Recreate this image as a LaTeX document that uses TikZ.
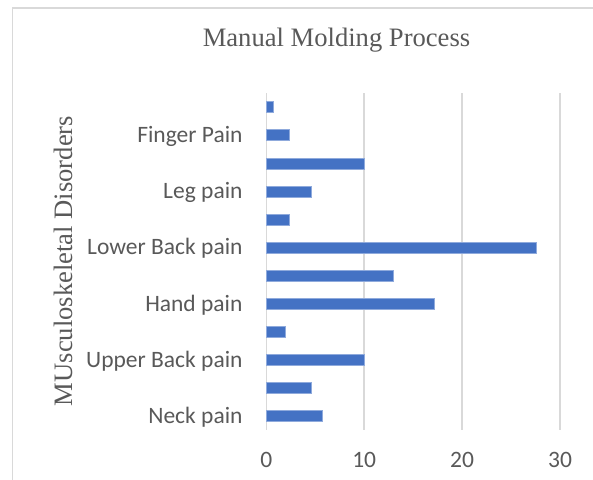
\documentclass[tikz,border=0pt]{standalone}
\usepackage{fontspec}
\setmainfont{Liberation Serif}
\newfontfamily\calfont{Carlito}
\definecolor{barblue}{HTML}{4472C4}
\definecolor{gridgray}{HTML}{D9D9D9}
\definecolor{txtgray}{HTML}{595959}
\begin{document}
\begin{tikzpicture}[x=1pt,y=-1pt,
  bar/.style={fill=barblue,draw=barblue!60!white,line width=0.4pt},
  grid/.style={draw=gridgray,line width=1.5pt},
  cat/.style={anchor=base east,text=txtgray,font=\calfont\fontsize{23.5}{26}\selectfont,inner sep=0pt},
  tick/.style={anchor=base,text=txtgray,font=\calfont\fontsize{23.5}{26}\selectfont,inner sep=0pt},
  ttl/.style={anchor=base,text=txtgray,font=\fontsize{26.6}{30}\selectfont,inner sep=0pt}]
\useasboundingbox (0,0) rectangle (593,479);
\begin{scope}
\clip (0,0) rectangle (593,479);
\draw[draw=gridgray,line width=1.3pt] (12.5,8) rectangle (620,500);
\end{scope}
\def\xz{266.3}
\def\sc{9.79}
% gridlines
\foreach \v in {0,10,20,30}{
  \draw[grid] ({\xz+\v*\sc},93) -- ({\xz+\v*\sc},430);
  \node[tick] (t\v) at ({\xz+\v*\sc},467.5) {\v};
}
% bars
\foreach \i/\v in {1/0.75,2/2.3,3/10,4/4.6,5/2.3,6/27.6,7/13.0,8/17.2,9/1.9,10/10,11/4.6,12/5.7}{
  \pgfmathsetmacro{\yc}{93+(\i-0.5)*28.08}
  \draw[bar] (\xz,\yc-5.5) rectangle ({\xz+\v*\sc},\yc+5.5);
}
% category labels
\foreach \i/\t in {2/Finger Pain,4/Leg pain,6/Lower Back pain,8/Hand pain,10/Upper Back pain,12/Neck pain}{
  \pgfmathsetmacro{\yc}{93+(\i-0.5)*28.08+7.5}
  \node[cat] (c\i) at (242.7,\yc) {\t};
}
\node[ttl] (title) at (336.5,46.7) {Manual Molding Process};
\node[ttl,rotate=90] (ytitle) at (72.5,261) {MUsculoskeletal Disorders};
\end{tikzpicture}
\end{document}
